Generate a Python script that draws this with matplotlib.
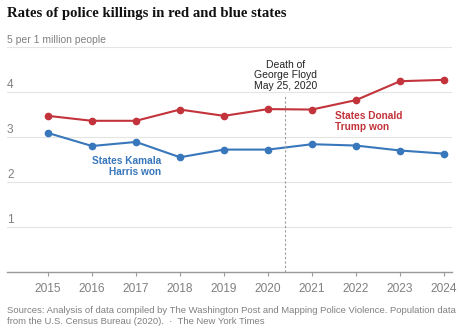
import matplotlib.pyplot as plt
import matplotlib.transforms as mtransforms

years = [2015, 2016, 2017, 2018, 2019, 2020, 2021, 2022, 2023, 2024]
red_states = [3.47, 3.36, 3.36, 3.61, 3.47, 3.62, 3.61, 3.82, 4.24, 4.27]
blue_states = [3.09, 2.80, 2.89, 2.55, 2.72, 2.72, 2.84, 2.81, 2.70, 2.63]
y_ticks = [1, 2, 3, 4, 5]
floyd_date = 2020.39

red = '#c2333b'
blue = '#3877bb'
grey = '#808080'

plt.rcParams['font.family'] = ['Liberation Sans', 'DejaVu Sans']

W, H = 462, 329
fig = plt.figure(figsize=(W / 100, H / 100), dpi=100)
ax = fig.add_axes([7 / W, 1 - 272 / H, (452 - 7) / W, (272 - 47) / H])
ax.set_xlim(2014.07, 2024.18)
ax.set_ylim(0, 5)

for s in ['top', 'right', 'left']:
    ax.spines[s].set_visible(False)
ax.spines['bottom'].set_color('#999999')
ax.spines['bottom'].set_linewidth(1)

ax.set_yticks(y_ticks)
ax.set_yticklabels([])
ax.tick_params(axis='y', length=0)
ax.grid(axis='y', color='#e4e4e4', linewidth=0.8)
ax.set_axisbelow(True)

ax.set_xticks(years)
ax.set_xticklabels([str(y) for y in years], fontsize=8.6, color=grey)
ax.tick_params(axis='x', length=3, color='#999999', pad=5)

# y labels sit just above their gridlines, top one carries the unit
trans = mtransforms.blended_transform_factory(ax.transAxes, ax.transData)
for t in y_ticks:
    if t == 5:
        ax.text(0, t + 0.05, '5 per 1 million people', transform=trans,
                fontsize=7.5, color=grey, ha='left', va='bottom')
    else:
        ax.text(0, t + 0.03, str(t), transform=trans,
                fontsize=8.6, color=grey, ha='left', va='bottom')

ax.plot(years, red_states, color=red, linewidth=1.5, marker='o', markersize=4.5)
ax.plot(years, blue_states, color=blue, linewidth=1.5, marker='o', markersize=4.5)

ax.axvline(floyd_date, ymin=0, ymax=3.95 / 5, color='#999999',
           linewidth=0.8, linestyle=(0, (2, 2)))
ax.text(floyd_date, 4.02, 'Death of\nGeorge Floyd\nMay 25, 2020', ha='center',
        va='bottom', fontsize=7.5, color='#222222', linespacing=1.1)

ax.text(2017.57, 2.58, 'States Kamala\nHarris won', ha='right', va='top',
        fontsize=7.3, fontweight='bold', color=blue, linespacing=1.2)
ax.text(2021.53, 3.58, 'States Donald\nTrump won', ha='left', va='top',
        fontsize=7.3, fontweight='bold', color=red, linespacing=1.2)

fig.text(7 / W, 1 - 14 / H, 'Rates of police killings in red and blue states',
         fontsize=10.6, fontweight='bold', fontfamily='Liberation Serif',
         ha='left', va='center', color='#111111')

fig.text(7 / W, 1 - 316 / H,
         'Sources: Analysis of data compiled by The Washington Post and Mapping Police Violence. Population data\n'
         'from the U.S. Census Bureau (2020).  \u00b7  The New York Times',
         fontsize=6.8, color=grey, ha='left', va='center', linespacing=1.35)

fig.savefig('out.png', dpi=100)
